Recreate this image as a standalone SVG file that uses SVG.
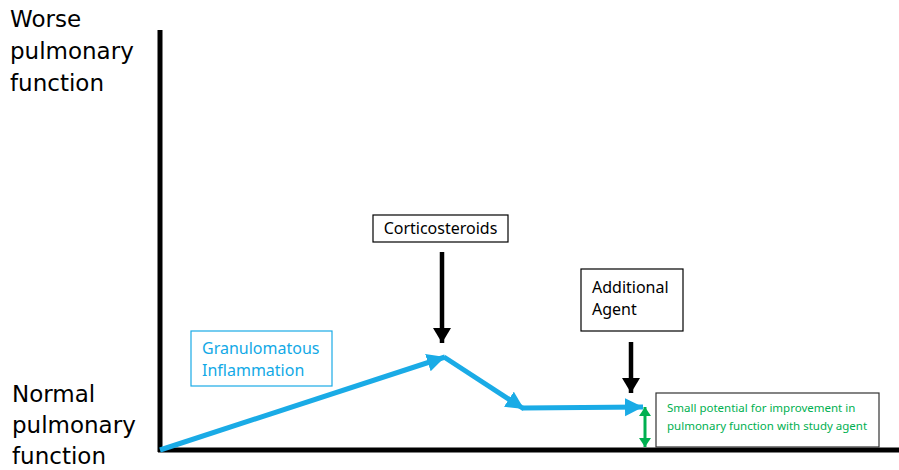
<svg xmlns="http://www.w3.org/2000/svg" width="899" height="470" viewBox="0 0 899 470">
<style>
.axis{font-family:"DejaVu Sans",sans-serif;font-size:23px;fill:#000}
.lbl{font-family:"Noto Sans","Open Sans",sans-serif;font-size:16px;fill:#000}
.blue{fill:#12A9E6}
.grn{font-family:"Noto Sans","Open Sans",sans-serif;font-size:11.5px;fill:#00B050}
.box{fill:#fff;stroke:#000;stroke-width:1.2}
.bl{fill:none;stroke:#1AABE6;stroke-width:5}
.blk{fill:none;stroke:#000;stroke-width:4.5}
</style>
<defs>
<marker id="hb" markerUnits="userSpaceOnUse" markerWidth="22" markerHeight="22" refX="18" refY="9" orient="auto">
<path d="M0,0 L18,9 L0,18 Z" fill="#1AABE6"/>
</marker>
<marker id="hk" markerUnits="userSpaceOnUse" markerWidth="20" markerHeight="20" refX="15" refY="9" orient="auto">
<path d="M0,0 L15,9 L0,18 Z" fill="#000"/>
</marker>
<marker id="hg" markerUnits="userSpaceOnUse" markerWidth="14" markerHeight="14" refX="9" refY="6" orient="auto-start-reverse">
<path d="M0,0 L9,6 L0,12 Z" fill="#00B050"/>
</marker>
</defs>
<rect width="899" height="470" fill="#fff"/>
<g id="axes">
<line x1="160" y1="30" x2="160" y2="452" stroke="#000" stroke-width="5"/>
<line x1="158" y1="450" x2="899" y2="450" stroke="#000" stroke-width="5"/>
</g>
<g id="y-labels">
<text class="axis" x="10" y="27">Worse</text>
<text class="axis" x="10" y="59">pulmonary</text>
<text class="axis" x="10" y="91">function</text>
<text class="axis" x="12" y="402">Normal</text>
<text class="axis" x="12" y="433">pulmonary</text>
<text class="axis" x="12" y="464">function</text>
</g>
<g id="granulomatous">
<rect x="191" y="331" width="141" height="55" fill="#fff" stroke="#1AABE6" stroke-width="1.2"/>
<text class="lbl blue" x="202" y="354">Granulomatous</text>
<text class="lbl blue" x="202" y="376">Inflammation</text>
</g>
<g id="corticosteroids">
<rect class="box" x="373" y="215" width="135" height="27"/>
<text class="lbl" x="440.5" y="234" text-anchor="middle">Corticosteroids</text>
</g>
<g id="additional-agent">
<rect class="box" x="581" y="269" width="102" height="62"/>
<text class="lbl" x="592" y="293">Additional</text>
<text class="lbl" x="592" y="315">Agent</text>
</g>
<g id="study-agent">
<rect x="656" y="393" width="223" height="54" fill="#fff" stroke="#333" stroke-width="1.2"/>
<text class="grn" x="667" y="412">Small potential for improvement in</text>
<text class="grn" x="667" y="430">pulmonary function with study agent</text>
</g>
<g id="connectors">
<line class="bl" x1="160" y1="450" x2="445" y2="357" marker-end="url(#hb)"/>
<line class="bl" x1="444" y1="357" x2="524" y2="409" marker-end="url(#hb)"/>
<line class="bl" x1="523" y1="408" x2="643" y2="407" marker-end="url(#hb)"/>
<line class="blk" x1="442" y1="252" x2="442" y2="343" marker-end="url(#hk)"/>
<line class="blk" x1="631" y1="342" x2="631" y2="393" marker-end="url(#hk)"/>
<line x1="645" y1="407" x2="645" y2="447" stroke="#00B050" stroke-width="3" marker-start="url(#hg)" marker-end="url(#hg)"/>
</g>
</svg>
